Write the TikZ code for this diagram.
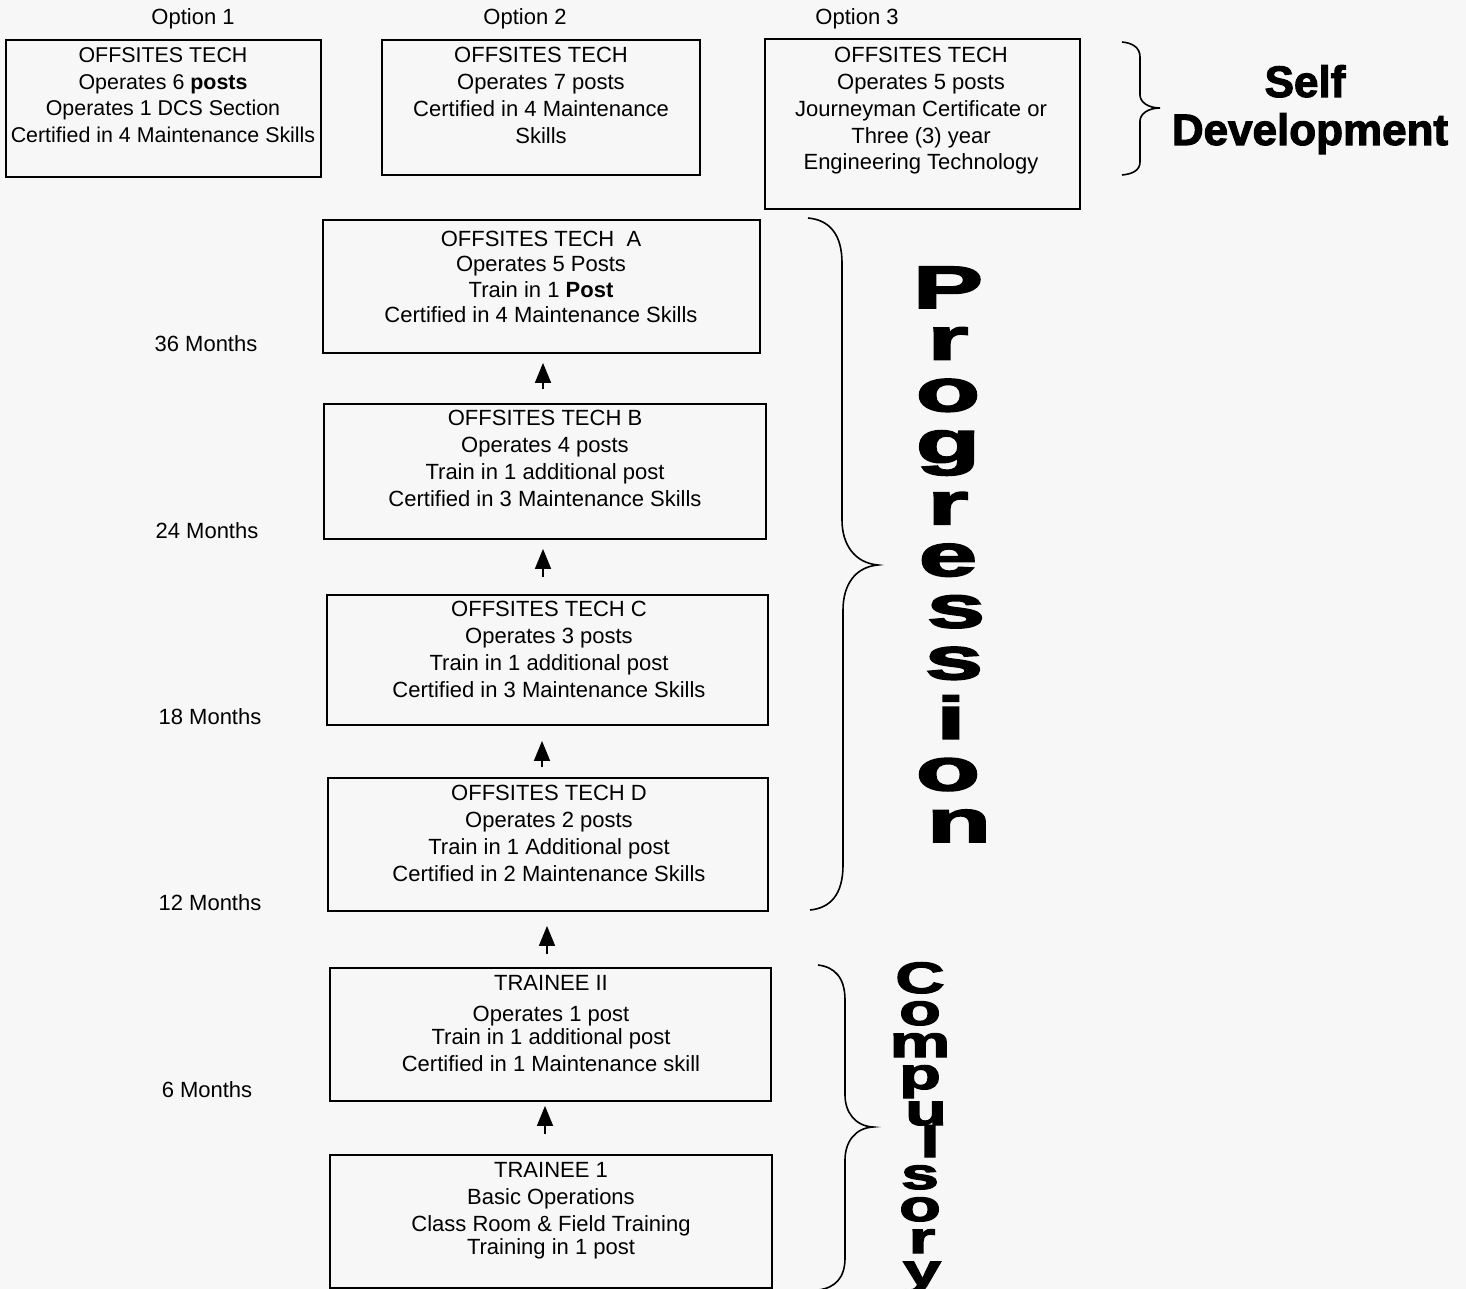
\documentclass[tikz,border=0pt]{standalone}
\usepackage{fontspec}
\usepackage{graphicx}
\setmainfont{Liberation Sans}
\newfontfamily\heavyfont[FakeBold=2.5]{Liberation Sans}
\usetikzlibrary{arrows.meta}
\definecolor{bgcol}{HTML}{F7F7F7}
\newcommand\wideP[2][0pt]{\hbox{\kern#1\relax\scalebox{1.75}[1]{#2}}}
\newcommand\wideC[2][0pt]{\hbox{\kern#1\relax\scalebox{1.55}[1]{#2}}}
\tikzset{
  box/.style={draw, line width=0.9pt, inner sep=0pt},
  txt/.style={font=\fontsize{11}{13.4}\selectfont, align=center, inner sep=0pt, anchor=north},
  lbl/.style={font=\fontsize{11}{13}\selectfont, inner sep=0pt, anchor=base},
  arr/.style={-{Triangle[width=8pt,length=10pt]}, line width=0.8pt},
  brc/.style={line width=0.8pt},
  big/.style={font=\heavyfont\bfseries\fontsize{22}{22}\selectfont, inner sep=0pt, anchor=base},
  vword/.style={align=center, inner sep=0pt, anchor=base,
    execute at begin node={\lineskiplimit=-100pt\relax\lineskip=0pt\relax}},
}
\begin{document}
\begin{tikzpicture}[x=0.5pt, y=-0.5pt]
\fill[bgcol] (0,0) rectangle (1466,1289);
\useasboundingbox (0,0) rectangle (1466,1289);

% option labels
\node[lbl] (o1) at (193,25) {Option 1};
\node[lbl] (o2) at (525,25) {Option 2};
\node[lbl] (o3) at (857,25) {Option 3};

% option boxes
\node[box, minimum width=157.5pt, minimum height=68.5pt] (opt1) at (163.5,108.5) {};
\node[box, minimum width=159pt, minimum height=67.5pt] (opt2) at (541,107.5) {};
\node[box, minimum width=157.5pt, minimum height=85pt] (opt3) at (922.5,124) {};
\node[txt, font=\fontsize{10.7}{13.4}\selectfont] (opt1t) at (163,47) {OFFSITES TECH\\Operates 6 \textbf{posts}\\Operates 1 DCS Section\\Certified in 4 Maintenance Skills};
\node[txt] (opt2t) at (541,47) {OFFSITES TECH\\Operates 7 posts\\Certified in 4 Maintenance\\Skills};
\node[txt] (opt3t) at (921,47) {OFFSITES TECH\\Operates 5 posts\\Journeyman Certificate or\\Three (3) year\\Engineering Technology};

% main boxes
\node[box, minimum width=218.5pt, minimum height=66.5pt] (A) at (541.5,286.5) {};
\node[box, minimum width=221pt, minimum height=67.5pt] (B) at (545,471.5) {};
\node[box, minimum width=220.5pt, minimum height=65pt] (C) at (547.5,660) {};
\node[box, minimum width=220pt, minimum height=66.5pt] (D) at (548,844.5) {};
\node[box, minimum width=220.5pt, minimum height=66.5pt] (T2) at (550.5,1034.5) {};
\node[box, minimum width=221pt, minimum height=66.5pt] (T1) at (551,1221.5) {};

\node[txt, font=\fontsize{11}{12.6}\selectfont] (At) at (541,231) {OFFSITES TECH~~A\\Operates 5 Posts\\Train in 1 \textbf{Post}\\Certified in 4 Maintenance Skills};
\node[txt] (Bt) at (545,410) {OFFSITES TECH B\\Operates 4 posts\\Train in 1 additional post\\Certified in 3 Maintenance Skills};
\node[txt] (Ct) at (549,601) {OFFSITES TECH C\\Operates 3 posts\\Train in 1 additional post\\Certified in 3 Maintenance Skills};
\node[txt] (Dt) at (549,785) {OFFSITES TECH D\\Operates 2 posts\\Train in 1 Additional post\\Certified in 2 Maintenance Skills};
\node[txt] (T2t) at (551,975) {TRAINEE II\\[2pt]Operates 1 post\\[-2pt]Train in 1 additional post\\[0.5pt]Certified in 1 Maintenance skill};
\node[txt] (T1t) at (551,1162) {TRAINEE 1\\Basic Operations\\Class Room \& Field Training\\[-1.5pt]Training in 1 post};

% arrows
\draw[arr, shorten <=7pt, shorten >=4.5pt] (B.north -| 543,0) -- (A.south -| 543,0);
\draw[arr, shorten <=8.5pt, shorten >=4.5pt] (C.north -| 543,0) -- (B.south -| 543,0);
\draw[arr, shorten <=5pt, shorten >=7.5pt] (D.north -| 542,0) -- (C.south -| 542,0);
\draw[arr, shorten <=6.5pt, shorten >=7pt] (T2.north -| 547,0) -- (D.south -| 547,0);
\draw[arr, shorten <=10pt, shorten >=2pt] (T1.north -| 545,0) -- (T2.south -| 545,0);

% month labels
\node[lbl] (m36) at (206,351) {36 Months};
\node[lbl] (m24) at (207,538) {24 Months};
\node[lbl] (m18) at (210,724) {18 Months};
\node[lbl] (m12) at (210,910) {12 Months};
\node[lbl] (m6) at (207,1097) {6 Months};

% braces
\draw[brc] (1122,42) .. controls (1133,43) and (1140,48) .. (1140,57) -- (1140,95)
  .. controls (1140,102) and (1148,108) .. (1160,108)
  .. controls (1148,108) and (1140,114) .. (1140,121) -- (1140,162)
  .. controls (1140,170) and (1133,174) .. (1122,175);
\draw[brc] (808,218) .. controls (830,220) and (842,235) .. (842,263) -- (842,520)
  .. controls (842,545) and (855,563) .. (878,565)
  .. controls (855,567) and (843,585) .. (843,610) -- (843,865)
  .. controls (843,895) and (830,908) .. (810,910);
\draw[brc] (818,965) .. controls (835,967) and (845,978) .. (845,1000) -- (845,1095)
  .. controls (845,1112) and (855,1126) .. (873,1127)
  .. controls (855,1128) and (845,1142) .. (845,1160) -- (845,1258)
  .. controls (845,1278) and (835,1288) .. (818,1290);

% Self Development
\node[big] (self) at (1305,97) {Self};
\node[big] (dev) at (1310,145) {Development};

% Progression (stacked letters; base = last line)
\node[vword, font=\heavyfont\bfseries\fontsize{30}{25.8}\selectfont] (prog) at (948,842)
  {\wideP{P}\\\wideP{r}\\\wideP{o}\\\wideP{g}\\[5pt]\wideP{r}\\\wideP{e}\\\wideP[8pt]{s}\\\wideP[6pt]{s}\\[4pt]\wideP[3pt]{i}\\\wideP{o}\\\wideP[11pt]{n}};

% Compulsory (stacked letters; base = last line)
\node[vword, font=\heavyfont\bfseries\fontsize{22}{16}\selectfont] (comp) at (920,1285)
  {\wideC{C}\\\wideC{o}\\\wideC{m}\\\wideC{p}\\[2pt]\wideC[6pt]{u}\\\wideC[10pt]{l}\\\wideC{s}\\\wideC{o}\\\wideC[2pt]{r}\\\wideC[2pt]{y}};
\end{tikzpicture}
\end{document}
